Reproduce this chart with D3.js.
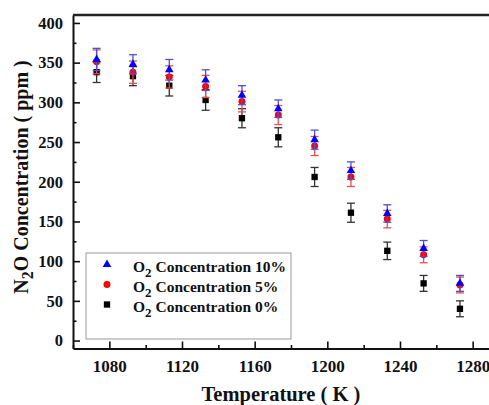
<!DOCTYPE html>
<html>
<head>
<meta charset="utf-8">
<script src="https://cdn.jsdelivr.net/npm/d3@7"></script>
<style>
  body { margin: 0; background: #fff; }
  svg { display: block; }
  .axis path, .axis line { stroke: #111; }
  .axis .domain { stroke-width: 2; }
  .axis line { stroke-width: 1.6; }
</style>
</head>
<body>
<div id="chart"></div>
<script>
// temperatures (K)
var temps = [1073, 1093, 1113, 1133, 1153, 1173, 1193, 1213, 1233, 1253, 1273];

// N2O concentration (ppm) with error, per O2 concentration
var o2_10 = [354, 348, 341, 328, 309, 292, 253, 214, 160, 116, 72];
var o2_10Err = [14, 12, 13, 13, 12, 11, 12, 11, 11, 10, 10];
var o2_5 = [351, 338, 332, 320, 301, 284, 245, 206, 153, 108, 70];
var o2_5Err = [15, 14, 14, 14, 13, 12, 12, 12, 11, 10, 10];
var o2_0 = [338, 333, 321, 303, 280, 256, 206, 161, 113, 72, 40];
var o2_0Err = [13, 12, 13, 13, 12, 12, 12, 12, 11, 10, 10];

var xTicks = [1080, 1120, 1160, 1200, 1240, 1280];
var xMinor = [1060, 1100, 1140, 1180, 1220, 1260, 1300];
var yTicks = [0, 50, 100, 150, 200, 250, 300, 350, 400];
var yMinor = [25, 75, 125, 175, 225, 275, 325, 375];

var legendLabels = ["10%", "5%", "0%"];

var FONT = "'Liberation Serif', Tinos, 'Times New Roman', 'DejaVu Serif', serif";

//
// setup
//
var W = 489, H = 405;
var margin = {top: 15, left: 73},
    plotW = 436,
    plotH = 333.5;

var svg = d3.select("#chart").append("svg")
    .attr("width", W).attr("height", H);

var x = d3.scaleLinear().domain([1060, 1300]).range([margin.left, margin.left + plotW]);
var y = d3.scaleLinear().domain([-10, 410]).range([margin.top + plotH, margin.top]);

var series = [
  {vals: o2_0, err: o2_0Err, shape: d3.symbolSquare, size: 40, fill: "#000", bar: "#333", label: legendLabels[2]},
  {vals: o2_5, err: o2_5Err, shape: d3.symbolCircle, size: 38, fill: "#ff0000", bar: "#e85050", label: legendLabels[1]},
  {vals: o2_10, err: o2_10Err, shape: d3.symbolTriangle, size: 32, fill: "#0000ff", bar: "#5050d0", label: legendLabels[0]}
];

function serif(sel, size){
  sel.attr("font-family", FONT).attr("font-weight", "bold")
     .style("font-family", FONT).style("font-weight", "bold")
     .style("font-size", size + "px").attr("fill", "#111");
}

// top frame line
svg.append("line")
  .attr("x1", margin.left).attr("x2", margin.left + plotW)
  .attr("y1", margin.top).attr("y2", margin.top)
  .attr("stroke", "#222").attr("stroke-width", 2.5);

// x axis (ticks inside)
svg.append("g")
  .attr("class", "axis")
  .attr("transform", "translate(0," + (margin.top + plotH) + ")")
  .call(d3.axisBottom(x).tickValues(xMinor).tickSize(-3.5).tickFormat(""))
  .call(function(g){ g.select(".domain").remove(); });

svg.append("g")
  .attr("class", "axis")
  .attr("transform", "translate(0," + (margin.top + plotH) + ")")
  .call(d3.axisBottom(x).tickValues(xTicks).tickSize(-7).tickSizeOuter(0).tickPadding(11).tickFormat(d3.format("d")))
  .call(function(g){ g.attr("font-family", null); serif(g.selectAll("text"), 17); });

// y axis (ticks inside)
svg.append("g")
  .attr("class", "axis")
  .attr("transform", "translate(" + margin.left + ",0)")
  .call(d3.axisLeft(y).tickValues(yMinor).tickSize(-3.5).tickFormat(""))
  .call(function(g){ g.select(".domain").remove(); });

svg.append("g")
  .attr("class", "axis")
  .attr("transform", "translate(" + margin.left + ",0)")
  .call(d3.axisLeft(y).tickValues(yTicks).tickSize(-7).tickSizeOuter(0).tickPadding(10))
  .call(function(g){ g.attr("font-family", null); serif(g.selectAll("text"), 16.5); });

// axis titles
svg.append("text")
  .attr("x", 281).attr("y", 401)
  .attr("text-anchor", "middle")
  .call(serif, 20.5)
  .text("Temperature ( K )");

var yt = svg.append("text")
  .attr("transform", "translate(28,177) rotate(-90)")
  .attr("text-anchor", "middle")
  .call(serif, 20);
yt.append("tspan").text("N");
yt.append("tspan").attr("dy", 5).style("font-size", "16px").text("2");
yt.append("tspan").attr("dy", -5).text("O Concentration ( ppm )");

//
// error bars + markers
//
series.forEach(function(s){
  var g = svg.append("g");
  var pts = temps.map(function(t, i){ return {t: t, v: s.vals[i], e: s.err[i]}; });

  g.selectAll("line.eb").data(pts).enter().append("line")
    .attr("x1", function(d){ return x(d.t); })
    .attr("x2", function(d){ return x(d.t); })
    .attr("y1", function(d){ return y(d.v + d.e); })
    .attr("y2", function(d){ return y(d.v - d.e); })
    .attr("stroke", s.bar).attr("stroke-width", 1.3);

  [1, -1].forEach(function(sign){
    g.selectAll(null).data(pts).enter().append("line")
      .attr("x1", function(d){ return x(d.t) - 4; })
      .attr("x2", function(d){ return x(d.t) + 4; })
      .attr("y1", function(d){ return y(d.v + sign * d.e); })
      .attr("y2", function(d){ return y(d.v + sign * d.e); })
      .attr("stroke", s.bar).attr("stroke-width", 1.3);
  });

  g.selectAll("path").data(pts).enter().append("path")
    .attr("d", d3.symbol().type(s.shape).size(s.size))
    .attr("transform", function(d){ return "translate(" + x(d.t) + "," + y(d.v) + ")"; })
    .attr("fill", s.fill);
});

//
// legend
//
var lg = svg.append("g");
lg.append("rect")
  .attr("x", 86).attr("y", 253).attr("width", 205).attr("height", 86)
  .attr("fill", "#fff").attr("stroke", "#999").attr("stroke-width", 1);

var legendOrder = [series[2], series[1], series[0]];
legendOrder.forEach(function(s, i){
  var cy = 264.5 + i * 20;
  lg.append("path")
    .attr("d", d3.symbol().type(s.shape).size(s.size))
    .attr("transform", "translate(107," + cy + ")")
    .attr("fill", s.fill);
  var t = lg.append("text")
    .attr("x", 133).attr("y", cy + 7.5)
    .call(serif, 15.5);
  t.append("tspan").text("O");
  t.append("tspan").attr("dy", 5).style("font-size", "13px").text("2");
  t.append("tspan").attr("dy", -5).text(" Concentration " + s.label);
});
</script>
</body>
</html>
